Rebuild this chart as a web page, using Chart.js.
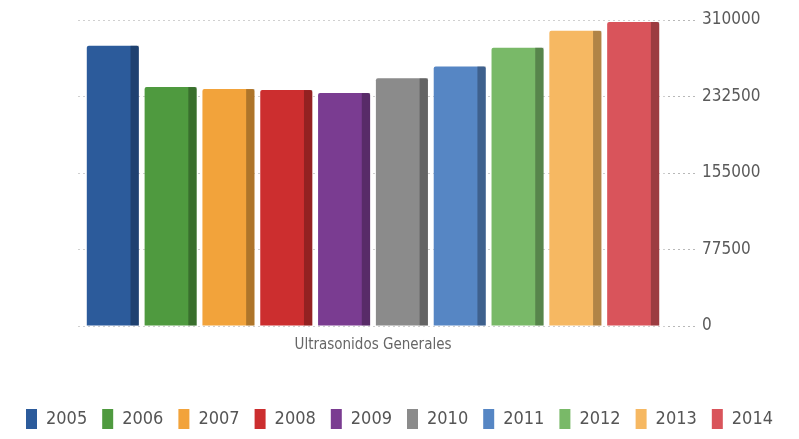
<!DOCTYPE html>
<html>
<head>
<meta charset="utf-8">
<script src="https://cdn.jsdelivr.net/npm/chart.js@4"></script>
<style>
  html, body { margin: 0; padding: 0; background: #fff; }
  #wrap { width: 799px; height: 439px; }
</style>
</head>
<body>
<div id="wrap"><canvas id="chart" width="799" height="439"></canvas></div>
<script>
const categories = ['Ultrasonidos Generales'];
const years = ['2005', '2006', '2007', '2008', '2009', '2010', '2011', '2012', '2013', '2014'];
const values = [284000, 242000, 240000, 239000, 236000, 251000, 263000, 282000, 299000, 308000];
const colors = ['#2c5b9b', '#4f9a3f', '#f2a33b', '#cc2e2f', '#7a3c91', '#8b8b8b', '#5686c4', '#79b968', '#f6b862', '#d9545b'];
const yTicks = [0, 77500, 155000, 232500, 310000];

// darker right-hand face to hint at the 3D look
const sideFace = {
  id: 'sideFace',
  afterDatasetsDraw(chart) {
    const ctx = chart.ctx;
    ctx.save();
    chart.data.datasets.forEach((ds, i) => {
      chart.getDatasetMeta(i).data.forEach(bar => {
        const w = bar.width * 0.16;
        ctx.fillStyle = 'rgba(0,0,0,0.28)';
        ctx.fillRect(bar.x + bar.width / 2 - w, bar.y, w, bar.base - bar.y);
      });
    });
    ctx.restore();
  }
};

Chart.defaults.font.family = '"DejaVu Sans Condensed", "DejaVu Sans", sans-serif';
Chart.defaults.color = '#5a5a5a';

new Chart(document.getElementById('chart'), {
  type: 'bar',
  data: {
    labels: categories,
    datasets: years.map((y, i) => ({
      label: y,
      data: [values[i]],
      yAxisID: 'y',
      backgroundColor: colors[i],
      borderWidth: 0,
      borderRadius: 2,
      categoryPercentage: 0.98,
      barPercentage: 0.9
    }))
  },
  options: {
    responsive: false,
    animation: false,
    layout: { padding: { top: 20, bottom: 0 } },
    plugins: {
      legend: {
        position: 'bottom',
        labels: {
          boxWidth: 11,
          boxHeight: 20,
          padding: 15,
          font: { size: 18 },
          color: '#555'
        }
      },
      tooltip: { enabled: false }
    },
    scales: {
      x: {
        grid: { display: false },
        border: { display: false },
        ticks: { font: { size: 15 }, color: '#666', padding: 2 },
        afterFit: axis => { axis.height = 68; }
      },
      yl: {
        type: 'linear',
        position: 'left',
        min: 0,
        max: 310000,
        grid: { display: false },
        border: { display: false },
        ticks: { display: false },
        afterFit: axis => { axis.width = 78; }
      },
      y: {
        position: 'right',
        min: 0,
        max: 310000,
        afterBuildTicks: axis => { axis.ticks = yTicks.map(v => ({ value: v })); },
        afterFit: axis => { axis.width = 131; },
        border: { display: false, dash: [2, 3] },
        grid: {
          color: '#d0d0d0',
          lineWidth: 1,
          tickLength: 28,
          tickColor: '#b8b8b8',
          tickBorderDash: [2, 3]
        },
        ticks: {
          font: { size: 17 },
          color: '#5a5a5a',
          padding: 6,
          callback: v => String(v)
        }
      }
    }
  },
  plugins: [sideFace]
});
</script>
</body>
</html>
